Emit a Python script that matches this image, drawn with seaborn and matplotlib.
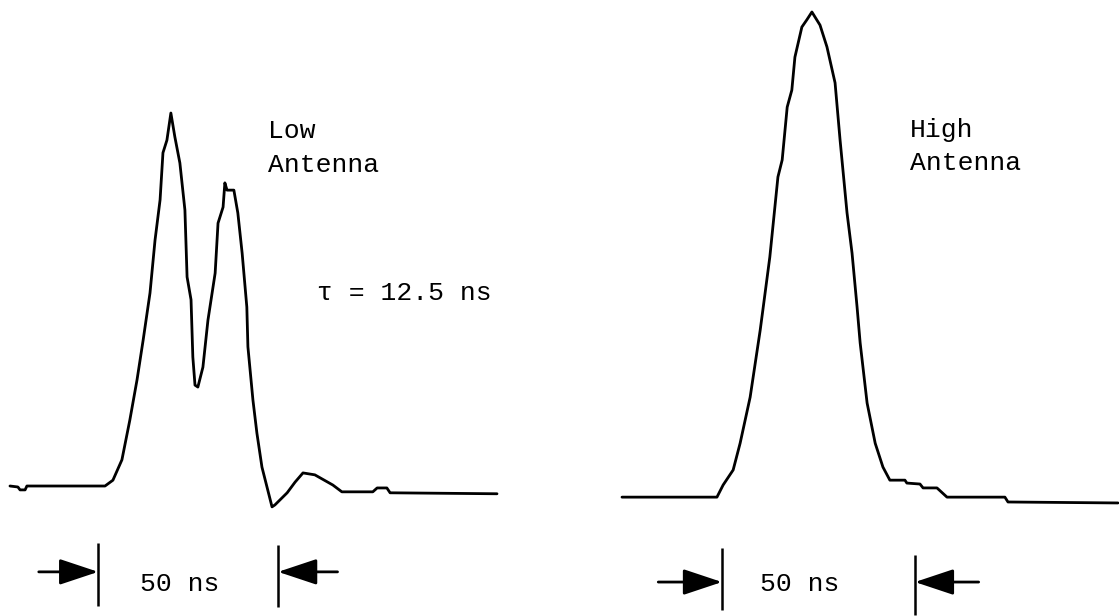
import matplotlib
matplotlib.use("Agg")
import matplotlib.pyplot as plt
import seaborn as sns
import pandas as pd

# ---- data (time in ns, relative amplitude) ----
low_t = [-26.4, -24.2, -23.6, -22.2, -21.7, 0.0, 2.2, 4.7, 6.9, 8.9, 10.6, 12.5, 13.9, 15.3,
         16.1, 17.2, 18.3, 19.4, 20.8, 22.2, 22.8, 23.9, 24.4, 25.0, 25.8, 27.2, 28.6, 30.6,
         31.4, 32.8, 33.3, 33.9, 35.8, 36.9, 38.1, 39.4, 39.7, 41.1, 42.2, 43.6, 45.0, 46.4,
         47.2, 50.6, 52.8, 55.0, 58.3, 63.3, 65.8, 74.4, 75.6, 78.3, 79.2, 108.9]
low_a = [0.0, -0.002, -0.008, -0.008, 0.0, 0.0, 0.012, 0.054, 0.136, 0.219, 0.301, 0.398, 0.507,
         0.590, 0.687, 0.713, 0.769, 0.720, 0.666, 0.569, 0.431, 0.384, 0.266, 0.208, 0.204,
         0.245, 0.342, 0.439, 0.542, 0.575, 0.625, 0.610, 0.610, 0.563, 0.480, 0.369, 0.287,
         0.177, 0.109, 0.039, -0.002, -0.043, -0.039, -0.014, 0.008, 0.027, 0.023, 0.002,
         -0.012, -0.012, -0.004, -0.004, -0.014, -0.016]

high_t = [-24.1, 0.5, 2.1, 4.7, 6.5, 9.1, 11.7, 12.4, 14.2, 16.3, 17.4, 18.7, 19.9, 20.7, 22.5,
          23.8, 25.1, 27.2, 29.0, 31.1, 32.4, 34.2, 35.5, 36.8, 37.6, 39.4, 41.5, 43.5, 45.3,
          49.2, 49.7, 53.1, 53.9, 57.5, 60.1, 75.1, 75.9, 104.4]
high_a = [0.0, 0.0, 0.025, 0.056, 0.111, 0.206, 0.344, 0.386, 0.495, 0.660, 0.695, 0.804, 0.839,
          0.907, 0.969, 0.984, 1.0, 0.973, 0.928, 0.854, 0.736, 0.586, 0.503, 0.392, 0.318,
          0.194, 0.111, 0.062, 0.035, 0.035, 0.029, 0.027, 0.019, 0.019, 0.0, 0.0, -0.010,
          -0.012]

panel_labels = ["Low\nAntenna", "High\nAntenna"]
tau_label = "τ = 12.5 ns"
scale_label = "50 ns"
low_bars = [-1.9, 48.1]     # 50 ns scale markers (ns)
high_bars = [1.8, 51.8]

sns.set_style("white")
plt.rcParams["font.family"] = ["Liberation Mono", "DejaVu Sans Mono"]

W, H = 1119, 616
fig = plt.figure(figsize=(W / 100, H / 100), dpi=100)
fig.patch.set_facecolor("white")

axL = fig.add_axes([0, 0, 560 / W, 1])
axR = fig.add_axes([560 / W, 0, 559 / W, 1])

LW = 2.0
FS = 19

def draw_panel(ax, t, a, bars, label, xlim, ylim, lab_xy, scale_xy, bar_y, arrow_y, bar2_y):
    df = pd.DataFrame({"t": t, "a": a})
    sns.lineplot(data=df, x="t", y="a", ax=ax, color="black", linewidth=LW,
                 sort=False, estimator=None, solid_joinstyle="round")
    ax.set_xlim(*xlim)
    ax.set_ylim(*ylim)
    ax.axis("off")
    l1, l2 = label.split("\n")
    ax.text(lab_xy[0], lab_xy[1], l1, fontsize=FS, va="baseline", ha="left", color="black")
    ax.text(lab_xy[0], lab_xy[2], l2, fontsize=FS, va="baseline", ha="left", color="black")
    ax.text(scale_xy[0], scale_xy[1], scale_label, fontsize=FS, va="baseline", ha="left",
            color="black")
    ax.vlines(bars[0], bar_y[0], bar_y[1], color="black", lw=1.8)
    ax.vlines(bars[1], bar2_y[0], bar2_y[1], color="black", lw=1.8)
    props = dict(arrowstyle="-|>,head_length=1.2,head_width=0.4", color="black",
                 lw=2.0, shrinkA=0, shrinkB=0, mutation_scale=20)
    ax.annotate("", xy=(bars[0], arrow_y), xytext=(bars[0] - 16.5, arrow_y), arrowprops=props)
    ax.annotate("", xy=(bars[1], arrow_y), xytext=(bars[1] + 16.5, arrow_y), arrowprops=props)

draw_panel(axL, low_t, low_a, low_bars, panel_labels[0],
           xlim=(-29.17, 126.4), ylim=(-0.268, 1.002),
           lab_xy=(45.3, 0.718, 0.647), scale_xy=(9.7, -0.216),
           bar_y=(-0.247, -0.118), arrow_y=-0.177, bar2_y=(-0.249, -0.122))
axL.text(58.9, 0.384, tau_label, fontsize=FS, va="baseline", ha="left", color="black")

draw_panel(axR, high_t, high_a, high_bars, panel_labels[1],
           xlim=(-40.16, 104.66), ylim=(-0.245, 1.0247),
           lab_xy=(50.5, 0.742, 0.674), scale_xy=(11.7, -0.194),
           bar_y=(-0.233, -0.105), arrow_y=-0.175, bar2_y=(-0.243, -0.120))

fig.savefig("out.png", dpi=100, facecolor="white")
